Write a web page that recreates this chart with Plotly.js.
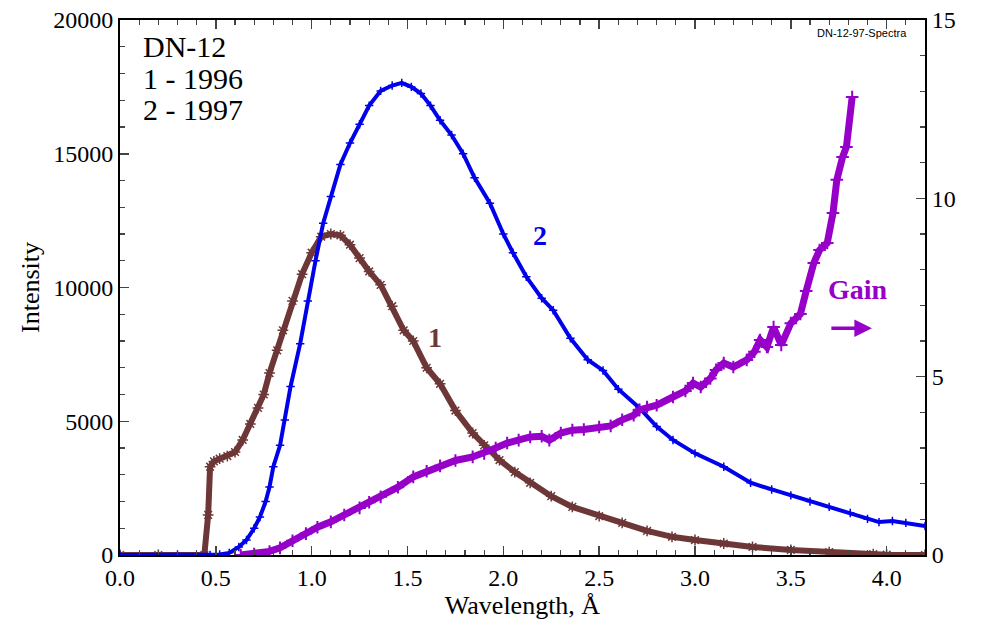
<!DOCTYPE html>
<html>
<head>
<meta charset="utf-8">
<script src="https://cdn.plot.ly/plotly-3.0.1.min.js"></script>
<style>html,body{margin:0;padding:0;background:#fff;}#chart{width:981px;height:621px;}</style>
</head>
<body>
<div id="chart"></div>
<script>
// Curve 1 (1996) intensity
const x1996 = [0,0.2,0.44,0.46,0.47,0.49,0.52,0.56,0.6,0.64,0.68,0.72,0.75,0.78,0.82,0.85,0.9,0.95,1.0,1.05,1.1,1.15,1.2,1.25,1.3,1.36,1.42,1.48,1.53,1.6,1.67,1.75,1.84,1.9,1.98,2.06,2.14,2.25,2.36,2.5,2.62,2.75,2.88,3.0,3.15,3.3,3.5,3.7,3.93,4.0,4.2];
const y1996 = [0,0,0,1500,3300,3500,3600,3700,3850,4300,4900,5500,6000,6800,7650,8400,9500,10500,11300,11900,12000,11950,11600,11100,10600,10100,9300,8400,8000,7000,6400,5400,4560,4100,3550,3100,2700,2200,1800,1450,1200,900,680,560,430,300,190,110,30,10,0];
// Curve 2 (1997) intensity
const x1997 = [0,0.3,0.47,0.52,0.57,0.62,0.66,0.7,0.73,0.76,0.78,0.8,0.835,0.86,0.89,0.94,0.98,1.02,1.06,1.1,1.15,1.2,1.25,1.3,1.36,1.42,1.47,1.52,1.57,1.62,1.67,1.73,1.79,1.85,1.93,2.0,2.05,2.12,2.2,2.26,2.35,2.44,2.52,2.6,2.71,2.8,2.885,3.0,3.15,3.29,3.4,3.5,3.6,3.7,3.81,3.9,3.96,4.03,4.1,4.2];
const y1997 = [0,0,0,20,80,300,560,1000,1420,2000,2540,3300,4100,5050,6300,7900,9500,11000,12400,13400,14600,15400,16100,16800,17350,17550,17650,17500,17250,16800,16250,15700,15000,14100,13150,12000,11300,10400,9600,9150,8100,7300,6900,6200,5500,4800,4300,3800,3300,2700,2450,2230,2000,1800,1570,1350,1230,1270,1200,1080];
// Gain (right axis)
const xGain = [0.63,0.7,0.78,0.835,0.9,0.97,1.03,1.1,1.17,1.25,1.3,1.36,1.45,1.53,1.6,1.67,1.75,1.84,1.9,1.96,2.02,2.08,2.14,2.2,2.24,2.3,2.36,2.42,2.5,2.56,2.62,2.68,2.71,2.75,2.8,2.885,2.95,2.99,3.03,3.08,3.11,3.15,3.2,3.27,3.31,3.34,3.375,3.41,3.45,3.5,3.55,3.58,3.62,3.65,3.69,3.72,3.74,3.77,3.79,3.82];
const yGain = [0,0.03,0.1,0.2,0.4,0.6,0.78,0.93,1.12,1.32,1.48,1.63,1.9,2.19,2.35,2.5,2.65,2.75,2.85,3.0,3.14,3.22,3.31,3.33,3.22,3.42,3.5,3.52,3.59,3.62,3.79,3.92,4.07,4.15,4.2,4.43,4.6,4.82,4.71,4.95,5.19,5.38,5.27,5.47,5.7,6.03,5.83,6.39,5.89,6.5,6.76,7.4,8.19,8.55,8.75,9.59,10.52,11.16,11.44,12.84];

const xTicks = [0,0.5,1,1.5,2,2.5,3,3.5,4];
const xTickText = ['0.0','0.5','1.0','1.5','2.0','2.5','3.0','3.5','4.0'];
const yTicks = [0,5000,10000,15000,20000];
const yTickText = ['0','5000','10000','15000','20000'];
const y2Ticks = [0,5,10,15];
const y2TickText = ['0','5','10','15'];

const BROWN = 'rgb(110,55,55)';
const BLUE = 'rgb(0,0,235)';
const PURPLE = 'rgb(150,0,200)';
const SERIF = 'Liberation Serif';

const traces = [
  {x: x1996, y: y1996, type:'scatter', mode:'lines+markers', line:{color:BROWN, width:6},
   marker:{symbol:'asterisk-open', size:9, color:BROWN, line:{color:BROWN, width:1.5}}, yaxis:'y', showlegend:false},
  {x: x1997, y: y1997, type:'scatter', mode:'lines+markers', line:{color:BLUE, width:4},
   marker:{symbol:'cross-thin-open', size:6, color:BLUE, line:{color:BLUE, width:1.5}}, yaxis:'y', showlegend:false},
  {x: xGain, y: yGain, type:'scatter', mode:'lines+markers', line:{color:PURPLE, width:7},
   marker:{symbol:'cross-thin-open', size:9, color:PURPLE, line:{color:PURPLE, width:2}}, yaxis:'y2', showlegend:false}
];

const axisFont = {family:SERIF, size:24, color:'#000'};

const layout = {
  width:981, height:621,
  margin:{l:120, r:56, t:20, b:66},
  paper_bgcolor:'#fff', plot_bgcolor:'#fff',
  showlegend:false,
  xaxis:{range:[0,4.2], tickvals:xTicks, ticktext:xTickText, ticks:'inside', ticklen:9, tickwidth:1.5,
    showline:true, linecolor:'#000', linewidth:2, mirror:'ticks', showgrid:false, zeroline:false,
    tickfont:axisFont, minor:{dtick:0.1, ticks:'inside', ticklen:5, tickwidth:1.2, showgrid:false},
    title:{text:'Wavelength, Å', font:{family:SERIF, size:26, color:'#000'}, standoff:2}},
  yaxis:{range:[0,20000], tickvals:yTicks, ticktext:yTickText, ticks:'inside', ticklen:9, tickwidth:1.5,
    showline:true, linecolor:'#000', linewidth:2, showgrid:false, zeroline:false,
    tickfont:axisFont, minor:{dtick:1000, ticks:'inside', ticklen:5, tickwidth:1.2, showgrid:false},
    title:{text:'Intensity', font:{family:SERIF, size:26, color:'#000'}, standoff:6}},
  yaxis2:{range:[0,15], overlaying:'y', side:'right', tickvals:y2Ticks, ticktext:y2TickText, ticks:'inside', ticklen:9, tickwidth:1.5,
    showline:true, linecolor:'#000', linewidth:2, showgrid:false, zeroline:false,
    tickfont:axisFont, minor:{dtick:1, ticks:'inside', ticklen:5, tickwidth:1.2, showgrid:false}},
  annotations:[
    {text:'DN-12', xref:'paper', yref:'paper', x:0.026, y:0.951, xanchor:'left', yanchor:'middle', showarrow:false, font:{family:SERIF, size:30, color:'#000'}},
    {text:'1 - 1996', xref:'paper', yref:'paper', x:0.026, y:0.891, xanchor:'left', yanchor:'middle', showarrow:false, font:{family:SERIF, size:30, color:'#000'}},
    {text:'2 - 1997', xref:'paper', yref:'paper', x:0.026, y:0.832, xanchor:'left', yanchor:'middle', showarrow:false, font:{family:SERIF, size:30, color:'#000'}},
    {text:'<b>2</b>', xref:'paper', yref:'paper', x:0.522, y:0.598, xanchor:'center', yanchor:'middle', showarrow:false, font:{family:SERIF, size:28, color:BLUE}},
    {text:'<b>1</b>', xref:'paper', yref:'paper', x:0.391, y:0.407, xanchor:'center', yanchor:'middle', showarrow:false, font:{family:SERIF, size:28, color:BROWN}},
    {text:'<b>Gain</b>', xref:'paper', yref:'paper', x:0.917, y:0.497, xanchor:'center', yanchor:'middle', showarrow:false, font:{family:SERIF, size:28, color:PURPLE}},
    {text:'', xref:'paper', yref:'paper', x:0.934, y:0.424, ax:-42, ay:0, showarrow:true, arrowhead:2, arrowsize:1, arrowwidth:3.5, arrowcolor:PURPLE},
    {text:'DN-12-97-Spectra', xref:'paper', yref:'paper', x:0.922, y:0.976, xanchor:'center', yanchor:'middle', showarrow:false, font:{family:'Liberation Sans', size:11, color:'#000'}}
  ]
};

Plotly.newPlot('chart', traces, layout, {displayModeBar:false, staticPlot:true});
</script>
</body>
</html>
